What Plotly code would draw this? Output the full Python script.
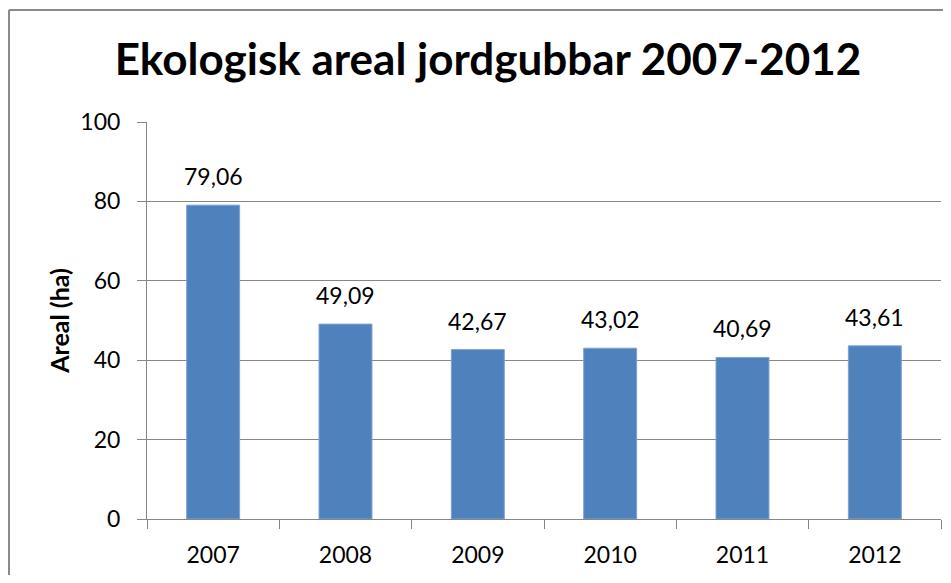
import plotly.graph_objects as go

years = ["2007", "2008", "2009", "2010", "2011", "2012"]
areal = [79.06, 49.09, 42.67, 43.02, 40.69, 43.61]
y_ticks = [0, 20, 40, 60, 80, 100]

# page body has an 8px margin, so the figure is sized to fit without scrolling
W, H = 935, 567
ML, MR, MT, MB = 139, 2, 114, 56
pw, ph = W - ML - MR, H - MT - MB
FONT = "Lato"

fig = go.Figure()
fig.add_trace(go.Bar(
    x=years, y=areal,
    marker=dict(color="#4F81BD", line=dict(color="#7DA2D3", width=1)),
    width=0.4,
    hoverinfo="x+y",
))

for i, v in enumerate(areal):
    fig.add_annotation(x=i, y=v, text=f"{v:.2f}".replace(".", ","),
                       showarrow=False, yanchor="bottom", yshift=13,
                       font=dict(family=FONT, size=23, color="#000000"))

# outer chart border: only top and left edges are inside the window
bx0 = (1 - ML) / pw
bx1 = (W + 50 - ML) / pw
by0 = -(MB + 50) / ph
by1 = (H - 2 - MB) / ph
for x0, y0, x1, y1 in [(bx0, by1, bx1, by1), (bx0, by0, bx0, by1)]:
    fig.add_shape(type="line", xref="paper", yref="paper",
                  x0=x0, y0=y0, x1=x1, y1=y1,
                  line=dict(color="#8A8A8A", width=2), layer="below")

fig.update_layout(
    width=W, height=H,
    margin=dict(l=ML, r=MR, t=MT, b=MB),
    paper_bgcolor="white", plot_bgcolor="white",
    showlegend=False,
    title=dict(text="<b>Ekologisk areal jordgubbar 2007-2012</b>",
               x=480 / W, xanchor="center", y=1 - 52 / H, yanchor="middle",
               font=dict(family=FONT, size=44, color="#000000")),
    bargap=0.6,
)
fig.update_xaxes(
    type="category", categoryorder="array", categoryarray=years,
    range=[-0.5, len(years) - 0.5], autorange=False,
    showline=True, linecolor="#868686", linewidth=1,
    ticks="outside", tickson="boundaries", ticklen=9, tickcolor="#868686",
    tickfont=dict(family=FONT, size=23, color="#000000"), tickangle=0,
    ticklabelstandoff=15,
    showgrid=False, mirror=False,
)
fig.update_yaxes(
    range=[0, 100], tickvals=y_ticks, showline=True, linecolor="#868686", linewidth=1,
    ticks="outside", ticklen=9, tickcolor="#868686",
    gridcolor="#868686", gridwidth=1, zeroline=False,
    tickfont=dict(family=FONT, size=23, color="#000000"),
    ticklabelstandoff=12,
    title=dict(text="<b>Areal (ha)</b>", font=dict(family=FONT, size=25, color="#000000"),
               standoff=3),
)

fig.write_html("out.html")
